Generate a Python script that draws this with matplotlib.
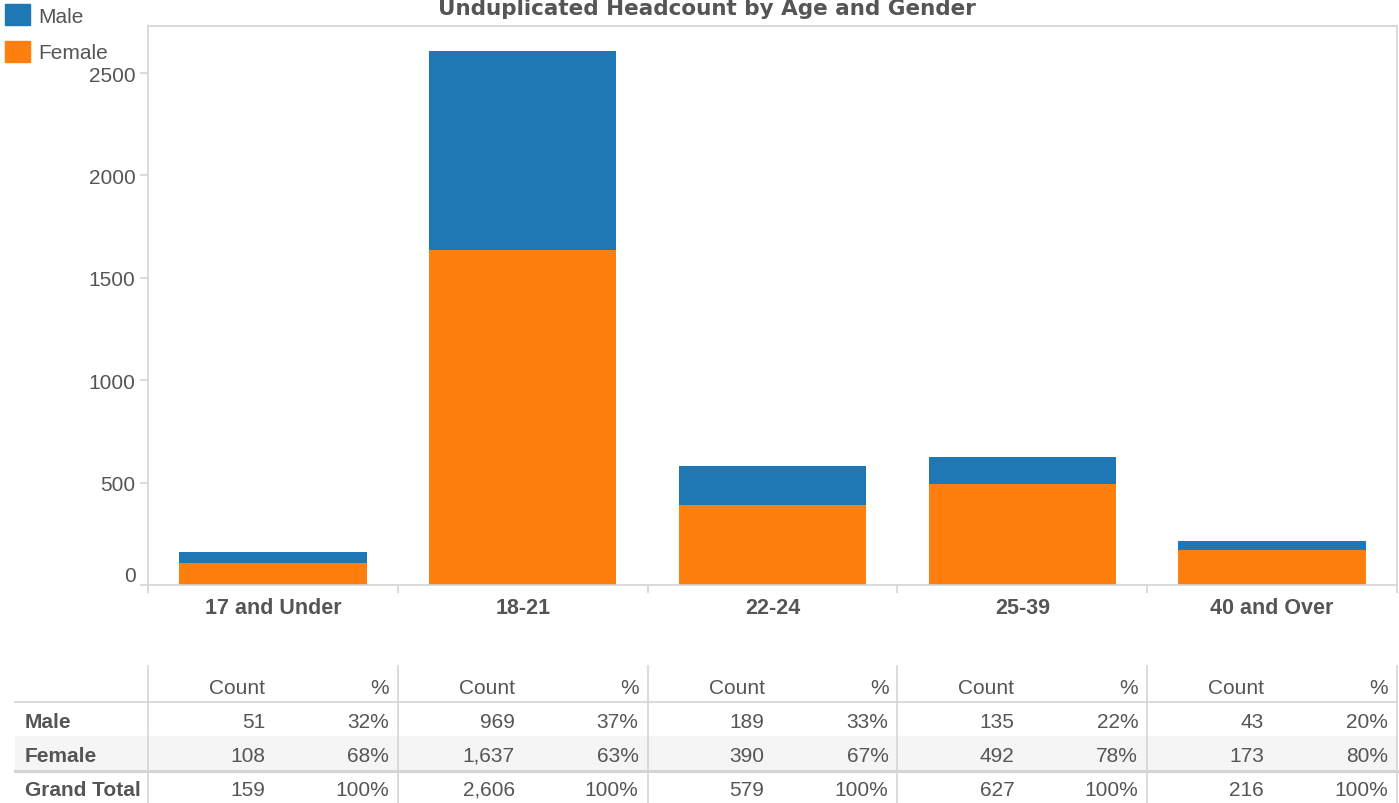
import matplotlib.pyplot as plt
from matplotlib.patches import Patch, Rectangle

plt.rcParams["font.family"] = ["Liberation Sans", "DejaVu Sans"]

ages = ["17 and Under", "18-21", "22-24", "25-39", "40 and Over"]
male = [51, 969, 189, 135, 43]
female = [108, 1637, 390, 492, 173]

BLUE = "#1f77b4"
ORANGE = "#ff7f0e"
TXT = "#555555"
LINE = "#d4d4d4"

total = [m + f for m, f in zip(male, female)]
male_pct = [round(m / t * 100) for m, t in zip(male, total)]
female_pct = [round(f / t * 100) for f, t in zip(female, total)]

W, H = 1399, 804
fig = plt.figure(figsize=(W / 100, H / 100), dpi=100)

# chart area
ax = fig.add_axes([148 / W, (804 - 586) / H, 1249 / W, 559 / H])
x = range(len(ages))
ax.bar(x, female, width=0.75, color=ORANGE)
ax.bar(x, male, width=0.75, bottom=female, color=BLUE)
ax.set_xlim(-0.5, len(ages) - 0.5)
ax.set_ylim(0, 2730)
ax.set_yticks([0, 500, 1000, 1500, 2000, 2500])
ax.set_xticks(list(x))
ax.set_xticklabels(ages, fontweight="bold", fontsize=15.5, color=TXT)
ax.set_xticks([i - 0.5 for i in range(len(ages) + 1)], minor=True)
ax.tick_params(axis="x", which="major", length=0, pad=9)
ax.tick_params(axis="x", which="minor", length=6, color=LINE, width=1.2)
ax.tick_params(axis="y", length=6, color=LINE, width=1.2, labelsize=15,
               labelcolor=TXT, pad=3)
ax.get_yticklabels()[0].set_verticalalignment("bottom")
for s in ax.spines.values():
    s.set_color(LINE)
    s.set_linewidth(1.2)

fig.text(0.505, 1 - 9 / H, "Unduplicated Headcount by Age and Gender",
         ha="center", va="center", fontsize=15.5, fontweight="bold",
         color=TXT, family="DejaVu Sans")

handles = [Patch(color=BLUE, label="Male"), Patch(color=ORANGE, label="Female")]
leg = fig.legend(handles=handles, loc="upper left",
                 bbox_to_anchor=(5 / W, 1 - 5 / H), frameon=False, fontsize=15,
                 handlelength=1.2, handleheight=1.2, handletextpad=0.38,
                 labelspacing=0.72, borderaxespad=0, borderpad=0)
for t in leg.get_texts():
    t.set_color(TXT)

# table below
at = fig.add_axes([148 / W, 0, 1249 / W, (804 - 660) / H])
at.set_xlim(-0.5, len(ages) - 0.5)
at.set_ylim(804, 660)
at.axis("off")

left = -0.5 - 133 / 249.8
at.add_patch(Rectangle((left, 737), len(ages) - 0.5 - left, 34,
                       color="#f5f5f5", zorder=0, clip_on=False))
at.plot([left, len(ages) - 0.5], [703, 703], color=LINE, lw=1.2, clip_on=False)
at.plot([left, len(ages) - 0.5], [771.5, 771.5], color=LINE, lw=2.2, clip_on=False)
for i in range(len(ages) + 1):
    at.plot([i - 0.5, i - 0.5], [667, 804], color=LINE, lw=1.2, clip_on=False)

# baselines of each table row (pixel rows)
rows = [("Male", male, male_pct, 728),
        ("Female", female, female_pct, 762),
        ("Grand Total", total, [100] * len(ages), 796)]
lab_x = -0.5 - 123 / 249.8
for i in range(len(ages)):
    at.text(i - 0.032, 694, "Count", ha="right", va="baseline",
            fontsize=15, color=TXT)
    at.text(i + 0.464, 694, "%", ha="right", va="baseline",
            fontsize=15, color=TXT)
for name, counts, pcts, y in rows:
    at.text(lab_x, y, name, ha="left", va="baseline", fontsize=15,
            fontweight="bold", color=TXT, clip_on=False)
    for i in range(len(ages)):
        at.text(i - 0.032, y, f"{counts[i]:,}", ha="right", va="baseline",
                fontsize=15, color=TXT)
        at.text(i + 0.464, y, f"{pcts[i]}%", ha="right", va="baseline",
                fontsize=15, color=TXT)

fig.savefig("out.png", dpi=100)
